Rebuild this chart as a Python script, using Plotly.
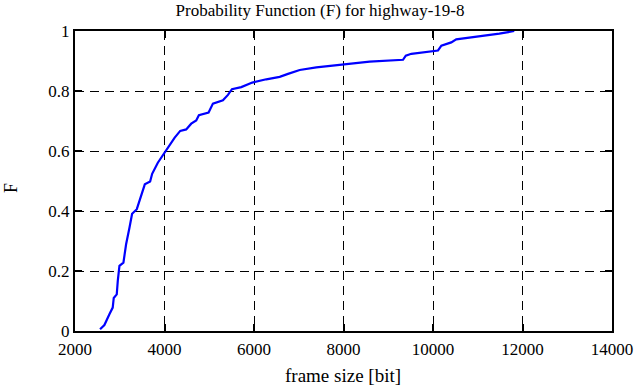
import plotly.graph_objects as go

frame_size = [2560, 2657, 2769, 2843, 2866, 2933, 2956, 2993, 3082, 3142, 3217, 3276,
              3381, 3440, 3515, 3560, 3679, 3724, 3851, 3978, 4112, 4224, 4351, 4485,
              4597, 4709, 4768, 4985, 5082, 5306, 5418, 5507, 5716, 5962, 6275, 6574,
              6760, 7021, 7393, 8012, 8585, 9330, 9367, 9392, 9516, 10000, 10112, 10187,
              10408, 10519, 11037, 11482, 11815]
F = [0.006, 0.02, 0.056, 0.078, 0.11, 0.122, 0.167, 0.217, 0.228, 0.289, 0.344, 0.391,
     0.406, 0.433, 0.467, 0.489, 0.498, 0.524, 0.561, 0.589, 0.617, 0.644, 0.667, 0.672,
     0.691, 0.702, 0.719, 0.728, 0.758, 0.769, 0.787, 0.806, 0.813, 0.828, 0.839, 0.847,
     0.857, 0.870, 0.879, 0.890, 0.898, 0.904, 0.915, 0.918, 0.924, 0.932, 0.935, 0.951,
     0.962, 0.972, 0.982, 0.991, 1.0]

x_ticks = [2000, 4000, 6000, 8000, 10000, 12000, 14000]
y_ticks = [0, 0.2, 0.4, 0.6, 0.8, 1]
y_tick_text = ["0", "0.2", "0.4", "0.6", "0.8", "1"]

FAM = "Liberation Serif, Times New Roman, serif"
tick_font = dict(family=FAM, size=17, color="black")
xlabel_font = dict(family=FAM, size=19, color="black")
ylabel_font = dict(family=FAM, size=18, color="black")
title_font = dict(family=FAM, size=17, color="black")

W, H = 639, 387
L, R, T, B = 75, 27, 31, 56
plot_w = W - L - R
plot_h = H - T - B

fig = go.Figure()
fig.add_trace(go.Scatter(x=frame_size, y=F, mode="lines",
                         line=dict(color="#0000ff", width=2.2), showlegend=False))

axis_common = dict(showline=True, linecolor="black", linewidth=2, mirror="ticks",
                   ticks="inside", ticklen=7, tickwidth=1.5, tickcolor="black",
                   showgrid=True, gridcolor="black", griddash="9px,6px", gridwidth=1,
                   zeroline=False, tickfont=tick_font, automargin=False)

fig.update_xaxes(range=[2000, 14000], tickvals=x_ticks, ticktext=[str(v) for v in x_ticks],
                 ticklabelstandoff=2, **axis_common)
fig.update_yaxes(range=[0, 1], tickvals=y_ticks, ticktext=y_tick_text, **axis_common)

fig.add_annotation(text="frame size [bit]", xref="paper", yref="paper",
                   x=(343 - L) / plot_w, y=(H - B - 375) / plot_h,
                   xanchor="center", yanchor="middle", showarrow=False, font=xlabel_font)
fig.add_annotation(text="F", xref="paper", yref="paper", textangle=-90,
                   x=(11 - L) / plot_w, y=(H - B - 188) / plot_h,
                   xanchor="center", yanchor="middle", showarrow=False, font=ylabel_font)

fig.update_layout(
    width=W, height=H,
    margin=dict(l=L, r=R, t=T, b=B),
    paper_bgcolor="white", plot_bgcolor="white",
    title=dict(text="Probability Function (F) for highway-19-8", font=title_font,
               x=320 / W, xanchor="center", y=1 - 10 / H, yanchor="middle",
               xref="container", yref="container"),
    font=tick_font,
)

fig.write_html("out.html", config={"displayModeBar": False},
               post_script="document.body.style.margin='0';")
